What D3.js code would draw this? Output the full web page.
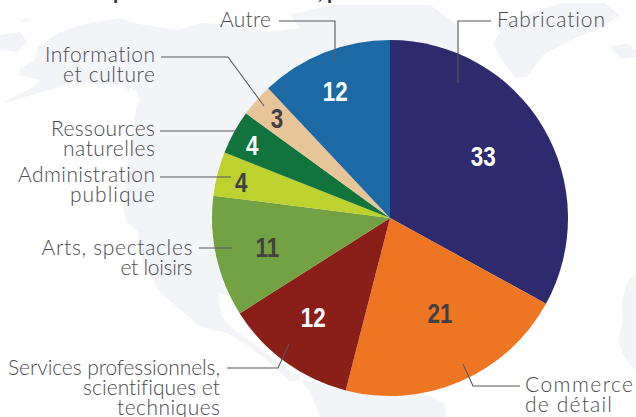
<!DOCTYPE html>
<html><head><meta charset="utf-8">
<style>html,body{margin:0;padding:0;background:#fff}svg{display:block}text{font-variant-ligatures:none}</style>
<script src="https://cdn.jsdelivr.net/npm/d3@7"></script></head>
<body><script>
const categories=["Fabrication","Commerce de détail","Services professionnels, scientifiques et techniques","Arts, spectacles et loisirs","Administration publique","Ressources naturelles","Information et culture","Autre"];
const values=[33,21,12,11,4,4,3,12];
const sliceColors=["#2d2a6e","#ee7623","#8a1f1a","#72a241","#bdd12f","#11743c","#e7c599","#1b6aa5"];
const valueColors=["#fff","#414042","#fff","#414042","#414042","#fff","#414042","#fff"];
const valueRadius=[112,107,125,126,153,156,151,138];
const valueNudgeDeg=[-3.1,-4.4,1.9,-.7,-.8,-.9,.1,-1.8];
const labelLines=[["Fabrication"],["Commerce","de détail"],["Services professionnels,","scientifiques et","techniques"],["Arts, spectacles","et loisirs"],["Administration","publique"],["Ressources","naturelles"],["Information","et culture"],["Autre"]];
const labelWidths=[[108],[108,87],[212,137,103],[151,72],[137,85],[104,92],[110,92],[51]];
const labelAnchor=[[497,27,"start"],[525,392,"start"],[220,375,"end"],[192.5,255,"end"],[155,182,"end"],[155,136,"end"],[155,62,"end"],[271,27,"end"]];
const leaders=[[[491,21],[458,21],[458,83]],[[520,386],[473,386],[463,364]],[[227,368],[278,368],[289,344]],[[199,248],[232,248]],[[160,177],[231,177]],[[160,131],[237,131]],[[161,57],[228,57],[264,106]],[[279,21],[335,21],[335,62]]];
const mapLand=[
[[58,33],[80,25],[120,18],[133,23],[177,30],[200,23],[240,25],[268,32],[300,28],[290,15],[330,5],[430,5],[458,25],[460,60],[400,218],[300,330],[300,380],[290,382],[267,360],[247,345],[227,333],[200,327],[178,308],[158,290],[143,262],[137,230],[127,223],[123,207],[128,160],[137,103],[123,84],[70,84],[0,104],[33,87],[40,80],[20,75],[20,68],[35,60],[37,48]],
[[0,35],[20,32],[27,42],[17,52],[0,50]],
[[20,21],[28,18],[31,20],[24,22]],
[[495,25],[530,14],[560,3],[605,3],[613,10],[620,15],[603,27],[583,35],[567,42],[543,55],[527,77],[515,78],[500,57],[493,42],[500,33]],
[[610,47],[627,43],[636,50],[636,57],[623,59],[617,55]],
[[636,272],[628,280],[622,300],[623,317],[619,340],[622,353],[630,365],[636,370]],
[[300,380],[310,392],[320,417],[446,417],[445,404],[428,395],[390,395]]
];
const mapWater=[
[[218,293],[222,317],[235,330],[262,350],[295,375],[310,372],[250,300]],
[[130,88],[137,92],[140,102],[134,106],[128,98]]
];
const titleFragments=[["p",113],[",",318],["p",327]];

const W=636,H=417,cx=390,cy=218,R=178;
const svg=d3.select("body").append("svg").attr("width",W).attr("height",H);
const poly=d3.line();
svg.append("g").selectAll("path").data(mapLand).join("path").attr("d",d=>poly(d)+"Z").attr("fill","#f3f4f8");
svg.append("g").selectAll("path").data(mapWater).join("path").attr("d",d=>poly(d)+"Z").attr("fill","#fff");
svg.append("g").selectAll("text").data(titleFragments).join("text").text(d=>d[0]).attr("x",d=>d[1]).attr("y",-1)
  .attr("font-family","Lato").attr("font-weight",700).attr("font-size",21).attr("fill","#333");

const pie=d3.pie().value(d=>d).sort(null)(values);
const arc=d3.arc().innerRadius(0).outerRadius(R);
const g=svg.append("g").attr("transform",`translate(${cx},${cy})`);
g.selectAll("path").data(pie).join("path").attr("d",arc).attr("fill",(d,i)=>sliceColors[i]);

const line=d3.line();
svg.append("g").selectAll("path").data(leaders).join("path").attr("d",line).attr("fill","none").attr("stroke","#58595b").attr("stroke-width",1.1);

g.selectAll("text").data(pie).join("text").text(d=>d.data)
 .attr("transform",(d,i)=>{const a=(d.startAngle+d.endAngle)/2+valueNudgeDeg[i]*Math.PI/180;
   const c=d3.arc().innerRadius(valueRadius[i]).outerRadius(valueRadius[i]).startAngle(a).endAngle(a).centroid();
   return `translate(${c[0]},${c[1]+10}) scale(.8,1)`;})
 .attr("text-anchor","middle").attr("font-family","Liberation Sans").attr("font-weight",700).attr("font-size",28).attr("fill",(d,i)=>valueColors[i]);

const lg=svg.append("g").attr("font-family","Lato").attr("font-weight",300).attr("font-size",21).attr("fill","#4a4b4d");
labelLines.forEach((ls,i)=>{const [x,y,an]=labelAnchor[i];
  ls.forEach((t,j)=>lg.append("text").text(t).attr("x",x).attr("y",y+j*20).attr("text-anchor",an)
    .attr("textLength",labelWidths[i][j]).attr("lengthAdjust","spacing"));});
</script></body></html>
